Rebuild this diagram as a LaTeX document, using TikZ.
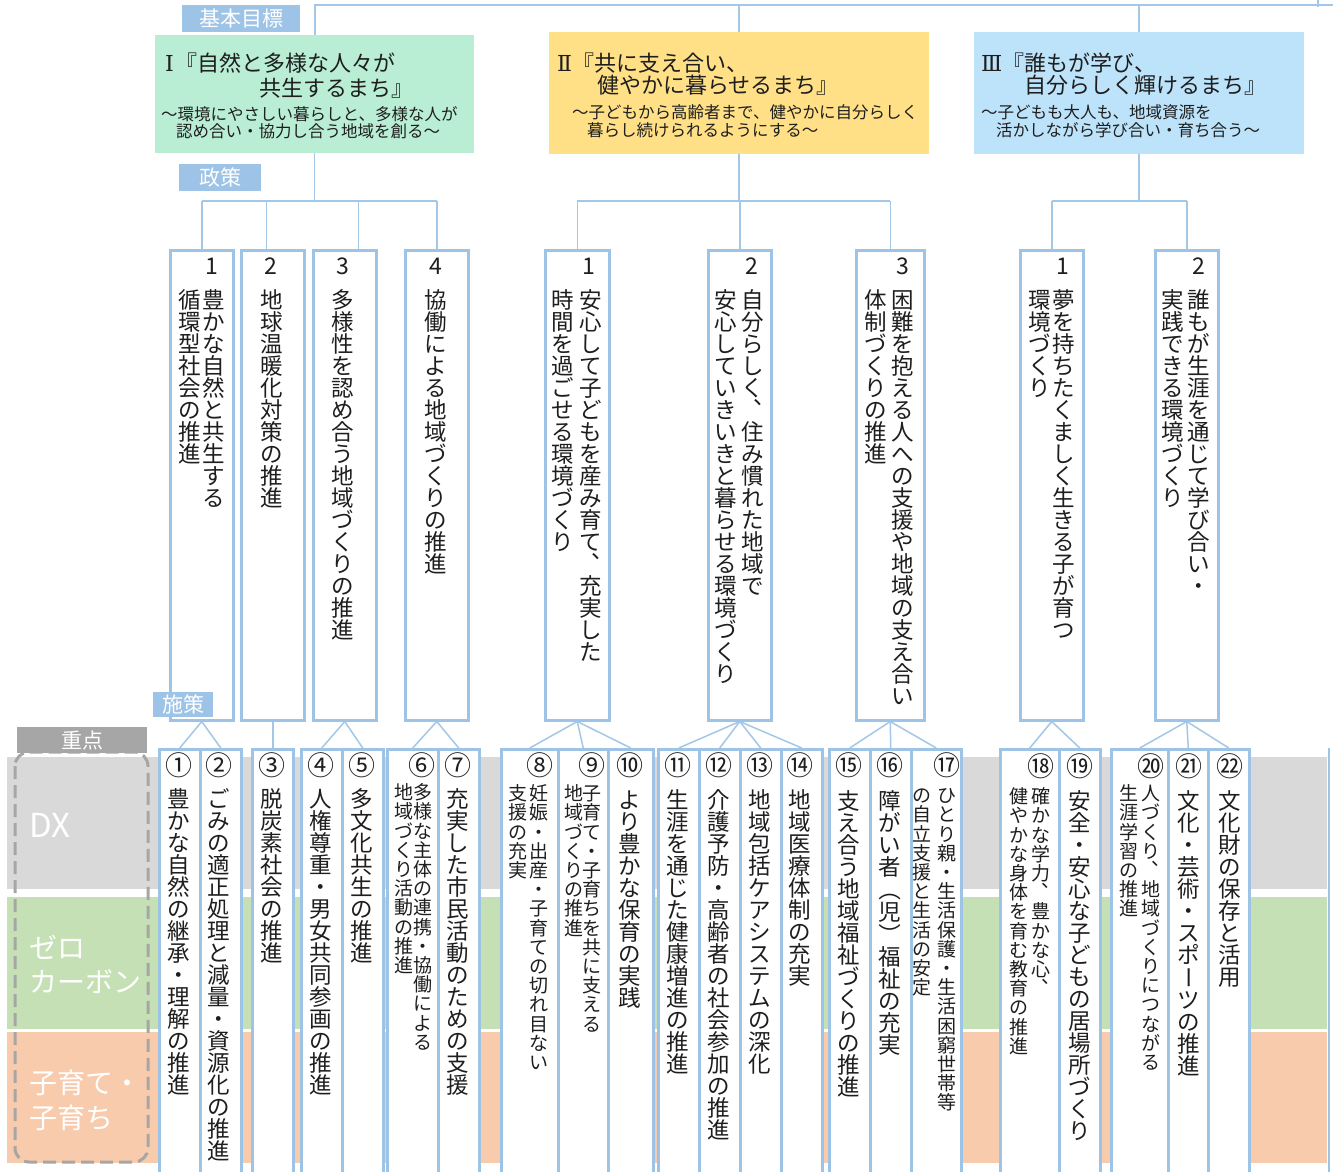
\documentclass[tikz,border=0pt]{standalone}
\usepackage{fontspec}
\setmainfont{Noto Sans CJK JP}
\newfontfamily\romnum{DejaVu Serif}
\usepackage{graphicx}
\definecolor{bb}{HTML}{9DC3E6}
\definecolor{cc}{HTML}{A3C7E8}
\definecolor{txt}{HTML}{1E1E1E}
\definecolor{gI}{HTML}{B9EED5}
\definecolor{gII}{HTML}{FFE086}
\definecolor{gIII}{HTML}{BDE3FB}
\definecolor{lgray}{HTML}{A6A6A6}
\definecolor{bandA}{HTML}{D9D9D9}
\definecolor{bandB}{HTML}{C5E0B4}
\definecolor{bandC}{HTML}{F8CBAD}
\makeatletter
\newdimen\vt@pitch
\def\vt@end{\vt@end}
\def\vt@comma{、}
\def\vt@bar{ー}
\def\vt@lp{（}
\def\vt@rp{）}
\def\vt@rot#1{\hss\rotatebox[origin=c]{-90}{\vphantom{漢}#1}\hss}
\def\vt@char#1{\def\vt@c{#1}%
  \hbox to 1em{\vrule width 0pt height .86\vt@pitch depth .14\vt@pitch\relax
    \ifx\vt@c\vt@comma\rlap{\kern.5em\raisebox{.62em}{#1}}\hss
    \else\ifx\vt@c\vt@bar\vt@rot{#1}%
    \else\ifx\vt@c\vt@lp\vt@rot{#1}%
    \else\ifx\vt@c\vt@rp\vt@rot{#1}%
    \else\hss#1\hss\fi\fi\fi\fi}}
\def\vt@loop#1{\ifx#1\vt@end\else\vt@char{#1}\expandafter\vt@loop\fi}
\newcommand\vt[3]{\vtop{\fontsize{#1}{#2}\selectfont\vt@pitch=#2\relax
  \offinterlineskip\vt@loop#3\vt@end}}
\makeatother
\newcommand\vbig[1]{\vt{22.5pt}{22pt}{#1}}
\newcommand\vsmall[1]{\vt{19pt}{19.2pt}{#1}}
\tikzset{
  gbox/.style={anchor=north west, inner sep=0pt},
  pbox/.style={draw=bb, line width=2.5pt, fill=white, anchor=north west, inner sep=0pt, minimum width=63pt, minimum height=470pt},
  mbox/.style={draw=bb, line width=2.5pt, fill=white, anchor=north west, inner sep=0pt, minimum height=440pt},
  conn/.style={cc, line width=1.5pt},
  lab/.style={fill=bb, text=white, inner sep=0pt, font=\fontsize{21pt}{21pt}\selectfont},
  vcol/.style={anchor=north, inner sep=0pt, text=txt},
  pnum/.style={inner sep=0pt, text=txt, font=\fontsize{23pt}{23pt}\selectfont},
  mnum/.style={inner sep=0pt, text=txt, font=\fontsize{27pt}{27pt}\selectfont},
  gt/.style={anchor=west, inner sep=0pt, text=txt, font=\fontsize{22pt}{22pt}\selectfont},
  gs/.style={anchor=west, inner sep=0pt, text=txt, font=\fontsize{16.5pt}{16.5pt}\selectfont},
  bandt/.style={anchor=west, inner sep=0pt, text=white, font=\fontsize{28pt}{28pt}\selectfont},
}
\begin{document}
\begin{tikzpicture}[x=1pt,y=-1pt]
\useasboundingbox (0,0) rectangle (1333,1171);
\clip (0,0) rectangle (1333,1171);
\fill[white] (0,0) rectangle (1333,1171);
% bands
\fill[bandA] (7,757) rectangle (1327,889);
\fill[bandB] (7,897) rectangle (1327,1029);
\fill[bandC] (7,1032) rectangle (1327,1163);
\node[bandt, font=\fontsize{33pt}{33pt}\selectfont] (bDX) at (29,825) {DX};
\node[bandt] (bZ1) at (29,947) {ゼロ};
\node[bandt] (bZ2) at (29,982) {カーボン};
\node[bandt] (bK1) at (29,1083) {子育て・};
\node[bandt] (bK2) at (29,1118) {子育ち};
\draw[lgray, line width=3pt, dash pattern=on 13pt off 6pt, rounded corners=14pt] (15,752) rectangle (148,1162);

% goal boxes
\node[gbox, fill=gI, minimum width=319pt, minimum height=118pt] (g1) at (155,35) {};
\node[gbox, fill=gII, minimum width=380pt, minimum height=122pt] (g2) at (549,32) {};
\node[gbox, fill=gIII, minimum width=330pt, minimum height=122pt] (g3) at (974,32) {};
\node[gt] (g1a) at (165,63) {{\romnum Ⅰ}\kern2pt『自然と多様な人々が};
\node[gt] (g1b) at (259,88) {共生するまち』};
\node[gs] (g1c) at (161,114) {～環境にやさしい暮らしと、多様な人が};
\node[gs] (g1d) at (176,131) {認め合い・協力し合う地域を創る～};
\node[gt] (g2a) at (557,63) {{\romnum Ⅱ}『共に支え合い、};
\node[gt] (g2b) at (597,85) {健やかに暮らせるまち』};
\node[gs] (g2c) at (572,112) {～子どもから高齢者まで、健やかに自分らしく};
\node[gs] (g2d) at (587,130) {暮らし続けられるようにする～};
\node[gt] (g3a) at (981,63) {{\romnum Ⅲ}『誰もが学び、};
\node[gt] (g3b) at (1024,85) {自分らしく輝けるまち』};
\node[gs] (g3c) at (981,112) {～子どもも大人も、地域資源を};
\node[gs] (g3d) at (996,130) {活かしながら学び合い・育ち合う～};

% policy boxes
\node[pbox] (p11) at (169,249) {};
\node[pbox] (p12) at (240,249) {};
\node[pbox] (p13) at (312,249) {};
\node[pbox] (p14) at (404,249) {};
\node[pbox, minimum width=64pt] (p21) at (544,249) {};
\node[pbox] (p22) at (707,249) {};
\node[pbox, minimum width=68pt] (p23) at (855,249) {};
\node[pbox] (p31) at (1019,249) {};
\node[pbox] (p32) at (1154,249) {};

\node[pnum] (p11n) at (212,266) {1};
\node[vcol] (p11r) at (214,289) {\vbig{豊かな自然と共生する}};
\node[vcol] (p11l) at (190,289) {\vbig{循環型社会の推進}};
\node[pnum] (p12n) at (271,266) {2};
\node[vcol] (p12r) at (272,289) {\vbig{地球温暖化対策の推進}};
\node[pnum] (p13n) at (343,266) {3};
\node[vcol] (p13r) at (343,289) {\vbig{多様性を認め合う地域づくりの推進}};
\node[pnum] (p14n) at (436,266) {4};
\node[vcol] (p14r) at (436,289) {\vbig{協働による地域づくりの推進}};
\node[pnum] (p21n) at (589,266) {1};
\node[vcol] (p21r) at (591,289) {\vbig{安心して子どもを産み育て、充実した}};
\node[vcol] (p21l) at (563,289) {\vbig{時間を過ごせる環境づくり}};
\node[pnum] (p22n) at (752,266) {2};
\node[vcol] (p22r) at (753,289) {\vbig{自分らしく、住み慣れた地域で}};
\node[vcol] (p22l) at (726,289) {\vbig{安心していきいきと暮らせる環境づくり}};
\node[pnum] (p23n) at (903,266) {3};
\node[vcol] (p23r) at (903,289) {\vbig{困難を抱える人への支援や地域の支え合い}};
\node[vcol] (p23l) at (876,289) {\vbig{体制づくりの推進}};
\node[pnum] (p31n) at (1063,266) {1};
\node[vcol] (p31r) at (1064,289) {\vbig{夢を持ちたくましく生きる子が育つ}};
\node[vcol] (p31l) at (1040,289) {\vbig{環境づくり}};
\node[pnum] (p32n) at (1199,266) {2};
\node[vcol] (p32r) at (1199,289) {\vbig{誰もが生涯を通じて学び合い・}};
\node[vcol] (p32l) at (1173,289) {\vbig{実践できる環境づくり}};

% measure boxes
\node[mbox, minimum width=41pt] (m1) at (158,748) {};
\node[mbox, minimum width=41pt] (m2) at (199,748) {};
\node[mbox, minimum width=41pt] (m3) at (251,748) {};
\node[mbox, minimum width=41pt] (m4) at (300,748) {};
\node[mbox, minimum width=41pt] (m5) at (341,748) {};
\node[mbox, minimum width=51pt] (m6) at (386,748) {};
\node[mbox, minimum width=41pt] (m7) at (437,748) {};
\node[mbox, minimum width=57pt] (m8) at (500,748) {};
\node[mbox, minimum width=50pt] (m9) at (557,748) {};
\node[mbox, minimum width=45pt] (m10) at (607,748) {};
\node[mbox, minimum width=41pt] (m11) at (657,748) {};
\node[mbox, minimum width=41pt] (m12) at (698,748) {};
\node[mbox, minimum width=41pt] (m13) at (739,748) {};
\node[mbox, minimum width=41pt] (m14) at (780,748) {};
\node[mbox, minimum width=41pt] (m15) at (828,748) {};
\node[mbox, minimum width=41pt] (m16) at (869,748) {};
\node[mbox, minimum width=50pt] (m17) at (910,748) {};
\node[mbox, minimum width=59pt] (m18) at (999,748) {};
\node[mbox, minimum width=41pt] (m19) at (1058,748) {};
\node[mbox, minimum width=57pt] (m20) at (1110,748) {};
\node[mbox, minimum width=40pt] (m21) at (1167,748) {};
\node[mbox, minimum width=41pt] (m22) at (1207,748) {};
\coordinate (edgeT) at (1329,748);
\draw[bb, line width=2.5pt] (edgeT) -- ++(0,440);

\node[mnum] (m1n) at (179,765) {①};
\node[vcol] (m1t) at (179,788) {\vbig{豊かな自然の継承・理解の推進}};
\node[mnum] (m2n) at (219,765) {②};
\node[vcol] (m2t) at (219,788) {\vbig{ごみの適正処理と減量・資源化の推進}};
\node[mnum] (m3n) at (272,765) {③};
\node[vcol] (m3t) at (272,788) {\vbig{脱炭素社会の推進}};
\node[mnum] (m4n) at (321,765) {④};
\node[vcol] (m4t) at (321,788) {\vbig{人権尊重・男女共同参画の推進}};
\node[mnum] (m5n) at (362,765) {⑤};
\node[vcol] (m5t) at (362,788) {\vbig{多文化共生の推進}};
\node[mnum] (m6n) at (422,765) {⑥};
\node[vcol] (m6r) at (423,783) {\vsmall{多様な主体の連携・協働による}};
\node[vcol] (m6l) at (404,783) {\vsmall{地域づくり活動の推進}};
\node[mnum] (m7n) at (458,765) {⑦};
\node[vcol] (m7t) at (458,788) {\vbig{充実した市民活動のための支援}};
\node[mnum] (m8n) at (540,765) {⑧};
\node[vcol] (m8r) at (539,784) {\vsmall{妊娠・出産・子育ての切れ目ない}};
\node[vcol] (m8l) at (518,784) {\vsmall{支援の充実}};
\node[mnum] (m9n) at (592,765) {⑨};
\node[vcol] (m9r) at (592,784) {\vsmall{子育て・子育ちを共に支える}};
\node[vcol] (m9l) at (574,784) {\vsmall{地域づくりの推進}};
\node[mnum] (m10n) at (630,765) {⑩};
\node[vcol] (m10t) at (630,789) {\vbig{より豊かな保育の実践}};
\node[mnum] (m11n) at (678,765) {⑪};
\node[vcol] (m11t) at (678,789) {\vbig{生涯を通じた健康増進の推進}};
\node[mnum] (m12n) at (719,765) {⑫};
\node[vcol] (m12t) at (719,789) {\vbig{介護予防・高齢者の社会参加の推進}};
\node[mnum] (m13n) at (760,765) {⑬};
\node[vcol] (m13t) at (760,789) {\vbig{地域包括ケアシステムの深化}};
\node[mnum] (m14n) at (800,765) {⑭};
\node[vcol] (m14t) at (800,789) {\vbig{地域医療体制の充実}};
\node[mnum] (m15n) at (849,765) {⑮};
\node[vcol] (m15t) at (849,790) {\vbig{支え合う地域福祉づくりの推進}};
\node[mnum] (m16n) at (890,765) {⑯};
\node[vcol] (m16t) at (890,790) {\vbig{障がい者（児）福祉の充実}};
\node[mnum] (m17n) at (947,765) {⑰};
\node[vcol] (m17r) at (947,786) {\vsmall{ひとり親・生活保護・生活困窮世帯等}};
\node[vcol] (m17l) at (922,786) {\vsmall{の自立支援と生活の安定}};
\node[mnum] (m18n) at (1041,766) {⑱};
\node[vcol] (m18r) at (1041,787) {\vsmall{確かな学力、豊かな心、}};
\node[vcol] (m18l) at (1019,787) {\vsmall{健やかな身体を育む教育の推進}};
\node[mnum] (m19n) at (1080,766) {⑲};
\node[vcol] (m19t) at (1080,790) {\vbig{安全・安心な子どもの居場所づくり}};
\node[mnum] (m20n) at (1151,766) {⑳};
\node[vcol] (m20r) at (1151,784) {\vsmall{人づくり、地域づくりにつながる}};
\node[vcol] (m20l) at (1129,784) {\vsmall{生涯学習の推進}};
\node[mnum] (m21n) at (1189,766) {㉑};
\node[vcol] (m21t) at (1189,790) {\vbig{文化・芸術・スポーツの推進}};
\node[mnum] (m22n) at (1230,766) {㉒};
\node[vcol] (m22t) at (1230,790) {\vbig{文化財の保存と活用}};

% connectors: top
\coordinate (topR) at (1333,5);
\coordinate (tick) at (1318,0);
\draw[conn, line width=2pt] (g1.north) -- (g1.north |- topR) -- (topR);
\draw[conn] (g2.north) -- (g2.north |- topR);
\draw[conn] (g3.north) -- (g3.north |- topR);
\draw[conn] (tick) -- ++(0,7);
% goal -> policy
\coordinate (h1) at (0,201);
\coordinate (d12) at ([xshift=-6.5pt]p12.north);
\coordinate (d13) at ([xshift=13.5pt]p13.north);
\draw[conn] (g1.south) -- (g1.south |- h1);
\draw[conn] (p11.north |- h1) -- (p14.north |- h1);
\draw[conn] (p11.north |- h1) -- (p11.north);
\draw[conn] (d12 |- h1) -- (d12);
\draw[conn] (d13 |- h1) -- (d13);
\draw[conn] (p14.north |- h1) -- (p14.north);
\draw[conn] (g2.south) -- (g2.south |- h1);
\draw[conn] (p21.north |- h1) -- (p23.north |- h1);
\foreach \p in {p21,p22,p23} \draw[conn] (\p.north |- h1) -- (\p.north);
\draw[conn] (g3.south) -- (g3.south |- h1);
\draw[conn] (p31.north |- h1) -- (p32.north |- h1);
\foreach \p in {p31,p32} \draw[conn] (\p.north |- h1) -- (\p.north);
% policy -> measure
\foreach \a/\b in {p11/m1,p11/m2,p12/m3,p13/m4,p13/m5,p14/m6,p14/m7,p21/m8,p21/m9,p21/m10,p22/m11,p22/m12,p22/m13,p22/m14,p23/m15,p23/m16,p23/m17,p31/m18,p31/m19,p32/m20,p32/m21,p32/m22}
  \draw[conn] (\a.south) -- (\b.north);

% labels
\node[lab, minimum width=118pt, minimum height=27pt] (lk) at (241,18.5) {基本目標};
\node[lab, minimum width=82pt, minimum height=27pt] (ls) at (220,177.5) {政策};
\node[lab, minimum width=60pt, minimum height=25pt] (lm) at (183,704.5) {施策};
\node[lab, fill=lgray, minimum width=130pt, minimum height=26pt] (lj) at (82,740) {重点};
\end{tikzpicture}
\end{document}
